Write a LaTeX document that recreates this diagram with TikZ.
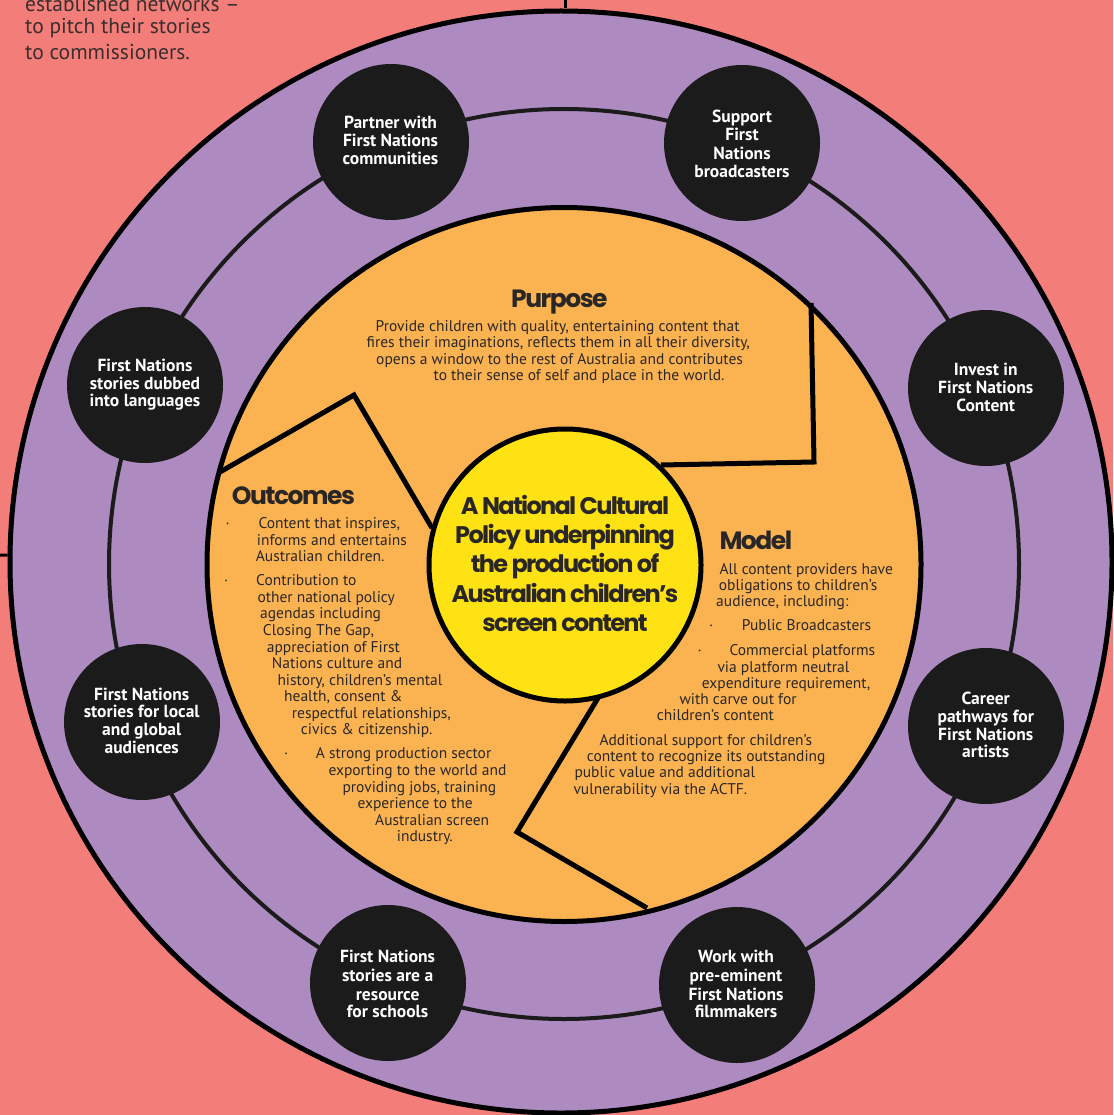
\documentclass[tikz,border=0pt]{standalone}
\usepackage{fontspec}
\setmainfont{PT Sans}
\newfontfamily\pophead[LetterSpace=-6]{Poppins}
\newfontfamily\popcent[LetterSpace=-7]{Poppins}
\definecolor{salmon}{HTML}{F37E79}
\definecolor{purp}{HTML}{AD8BC0}
\definecolor{orng}{HTML}{FBB351}
\definecolor{yell}{HTML}{FFE213}
\definecolor{blobc}{HTML}{1B1B1B}
\definecolor{txtc}{HTML}{2A2626}
\definecolor{toptxt}{HTML}{3A2E2E}
\tikzset{
  bodytxt/.style={anchor=base west, inner sep=0pt, text=txtc, font=\fontsize{15.5}{17}\selectfont},
  toptext/.style={anchor=base west, inner sep=0pt, text=toptxt, font=\fontsize{21.5}{23}\selectfont},
  ctxt/.style={anchor=base, inner sep=0pt, text=white, font=\bfseries\fontsize{17.5}{19}\selectfont},
  headtxt/.style={anchor=base west, inner sep=0pt, text=txtc, font=\pophead\bfseries\fontsize{25}{28}\selectfont},
  centtxt/.style={anchor=base, inner sep=0pt, text=txtc, font=\popcent\bfseries\fontsize{24}{28}\selectfont},
  blob/.style={circle, fill=blobc, minimum size=156pt, inner sep=0pt},
  divline/.style={draw=black, line width=5pt, line join=miter},
  stub/.style={draw=black, line width=3pt}
}
\begin{document}
\begin{tikzpicture}[x=1pt,y=-1pt]
\useasboundingbox (0,0) rectangle (1113,1115);
\fill[salmon] (0,0) rectangle (1113,1115);

% top-left text
\node[toptext] (tl1) at (25,12) {established networks –};
\node[toptext] (tl2) at (25,33.5) {to pitch their stories};
\node[toptext] (tl3) at (25,59.5) {to commissioners.};

% outer purple disc
\node[circle, fill=purp, draw=black, line width=5pt, minimum size=1102pt, inner sep=0pt] (outer) at (561,562) {};
\coordinate (topend) at (565,0);
\coordinate (leftend) at (0,555);
\draw[stub] (topend) -- (outer.north -| topend);
\draw[stub] (leftend) -- (outer);

% ring
\draw[draw=blobc, line width=4pt] (564,564) circle[radius=455pt];

% black circles
\node[blob] (cpart) at (391,142) {};
\node[blob] (csupp) at (742,143) {};
\node[blob] (cinv) at (986,388) {};
\node[blob] (ccar) at (986,726) {};
\node[blob] (cwork) at (737,985) {};
\node[blob] (cres) at (388,983) {};
\node[blob] (cloc) at (142,722) {};
\node[blob] (cdub) at (145,385) {};

% orange disc
\node[circle, fill=orng, draw=black, line width=5pt, minimum size=714pt, inner sep=0pt] (orange) at (564,564.5) {};

% dividing lines
\coordinate (a1) at (220,472);
\coordinate (a2) at (354,395);
\coordinate (a3) at (432,528);
\coordinate (b1) at (811,303);
\coordinate (b2) at (814,462);
\coordinate (b3) at (661,465);
\coordinate (d1) at (598,698);
\coordinate (d2) at (517,832);
\coordinate (d3) at (647,908);
\draw[divline] (a1) -- (a2) -- (a3);
\draw[divline] (b1) -- (b2) -- (b3);
\draw[divline] (d1) -- (d2) -- (d3);

% yellow centre
\node[circle, fill=yell, draw=black, line width=5pt, minimum size=272pt, inner sep=0pt] (centre) at (565,565) {};
\node[centtxt] (ct1) at (565,514) {A National Cultural};
\node[centtxt] (ct2) at (565,543.4) {Policy underpinning};
\node[centtxt] (ct3) at (565,572.8) {the production of};
\node[centtxt] (ct4) at (565,602.2) {Australian children’s};
\node[centtxt] (ct5) at (565,631.6) {screen content};

% circle texts
\node[ctxt] (tp1) at (390.5,128.3) {Partner with};
\node[ctxt] (tp2) at (390.5,146.7) {First Nations};
\node[ctxt] (tp3) at (390.5,165) {communities};

\node[ctxt] (ts1) at (742,122.5) {Support};
\node[ctxt] (ts2) at (742,140.9) {First};
\node[ctxt] (ts3) at (742,159.3) {Nations};
\node[ctxt] (ts4) at (742,177.7) {broadcasters};

\node[ctxt] (ti1) at (985.7,375) {Invest in};
\node[ctxt] (ti2) at (985.7,393.3) {First Nations};
\node[ctxt] (ti3) at (985.7,411.7) {Content};

\node[ctxt] (tc1) at (985.7,704.3) {Career};
\node[ctxt] (tc2) at (985.7,722.3) {pathways for};
\node[ctxt] (tc3) at (985.7,740) {First Nations};
\node[ctxt] (tc4) at (985.7,757.7) {artists};

\node[ctxt] (tw1) at (736,962.7) {Work with};
\node[ctxt] (tw2) at (736,981) {pre-eminent};
\node[ctxt] (tw3) at (736,1000) {First Nations};
\node[ctxt] (tw4) at (736,1017.7) {filmmakers};

\node[ctxt] (tr1) at (387.6,962.7) {First Nations};
\node[ctxt] (tr2) at (387.6,981) {stories are a};
\node[ctxt] (tr3) at (387.6,1000) {resource};
\node[ctxt] (tr4) at (387.6,1017.7) {for schools};

\node[ctxt] (tl1c) at (141.7,700) {First Nations};
\node[ctxt] (tl2c) at (141.7,717.7) {stories for local};
\node[ctxt] (tl3c) at (141.7,735.7) {and global};
\node[ctxt] (tl4c) at (141.7,753.3) {audiences};

\node[ctxt] (td1) at (145,371.7) {First Nations};
\node[ctxt] (td2) at (145,389) {stories dubbed};
\node[ctxt] (td3) at (145,406.7) {into languages};

% Purpose
\node[headtxt] (hpur) at (511,307.3) {Purpose};
\node[bodytxt] (pu1) at (375.5,331) {Provide children with quality, entertaining content that};
\node[bodytxt] (pu2) at (366.5,347.5) {fires their imaginations, reflects them in all their diversity,};
\node[bodytxt] (pu3) at (376,364) {opens a window to the rest of Australia and contributes};
\node[bodytxt] (pu4) at (433.5,380.7) {to their sense of self and place in the world.};

% Outcomes
\node[headtxt] (hout) at (231.7,504.3) {Outcomes};
\node[bodytxt] (ob1) at (225.5,528.3) {·};
\node[bodytxt] (ou1) at (258.3,528.3) {Content that inspires,};
\node[bodytxt] (ou2) at (256.7,545.3) {informs and entertains};
\node[bodytxt] (ou3) at (255.7,561.7) {Australian children.};
\node[bodytxt] (ob2) at (224,585.3) {·};
\node[bodytxt] (ou4) at (256,585.3) {Contribution to};
\node[bodytxt] (ou5) at (257.3,602.3) {other national policy};
\node[bodytxt] (ou6) at (260,618.7) {agendas including};
\node[bodytxt] (ou7) at (262.7,635.7) {Closing The Gap,};
\node[bodytxt] (ou8) at (266.7,652.3) {appreciation of First};
\node[bodytxt] (ou9) at (271.7,668.7) {Nations culture and};
\node[bodytxt] (ou10) at (277.3,685) {history, children’s mental};
\node[bodytxt] (ou11) at (284,701.7) {health, consent \&};
\node[bodytxt] (ou12) at (291.7,718.3) {respectful relationships,};
\node[bodytxt] (ou13) at (300.7,734.3) {civics \& citizenship.};
\node[bodytxt] (ob3) at (284,758.7) {·};
\node[bodytxt] (ou14) at (315.7,758.7) {A strong production sector};
\node[bodytxt] (ou15) at (328.3,775.7) {exporting to the world and};
\node[bodytxt] (ou16) at (342.3,792.3) {providing jobs, training};
\node[bodytxt] (ou17) at (357.3,808.3) {experience to the};
\node[bodytxt] (ou18) at (375,825) {Australian screen};
\node[bodytxt] (ou19) at (396.7,841) {industry.};

% Model
\node[headtxt] (hmod) at (719.3,549.3) {Model};
\node[bodytxt] (mo1) at (719.3,574) {All content providers have};
\node[bodytxt] (mo2) at (718.7,590.5) {obligations to children’s};
\node[bodytxt] (mo3) at (716,606.7) {audience, including:};
\node[bodytxt] (mb1) at (709,630.7) {·};
\node[bodytxt] (mo4) at (741.7,630.7) {Public Broadcasters};
\node[bodytxt] (mb2) at (697.3,655) {·};
\node[bodytxt] (mo5) at (729.3,655) {Commercial platforms};
\node[bodytxt] (mo6) at (717.3,672) {via platform neutral};
\node[bodytxt] (mo7) at (701.7,688) {expenditure requirement,};
\node[bodytxt] (mo8) at (679.3,704.3) {with carve out for};
\node[bodytxt] (mo9) at (656.7,720.7) {children’s content};
\node[bodytxt] (mo10) at (599.3,745) {Additional support for children’s};
\node[bodytxt] (mo11) at (586.7,761.7) {content to recognize its outstanding};
\node[bodytxt] (mo12) at (574.3,777.7) {public value and additional};
\node[bodytxt] (mo13) at (573.3,794.3) {vulnerability via the ACTF.};
\end{tikzpicture}
\end{document}
